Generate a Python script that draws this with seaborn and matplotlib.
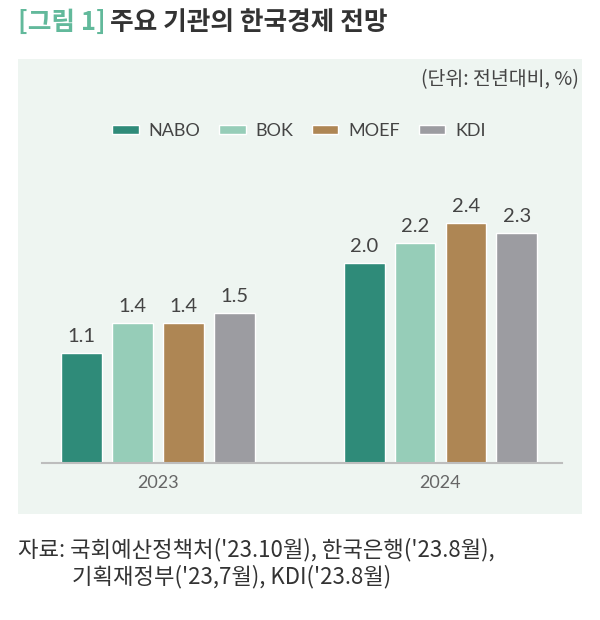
import matplotlib
matplotlib.use("Agg")
import matplotlib.pyplot as plt
from matplotlib.patches import Rectangle
import seaborn as sns
import pandas as pd

years = ["2023", "2024"]
agencies = ["NABO", "BOK", "MOEF", "KDI"]
nabo = [1.1, 2.0]
bok = [1.4, 2.2]
moef = [1.4, 2.4]
kdi = [1.5, 2.3]
colors = ["#2f8b79", "#96cdb8", "#ae8654", "#9c9ca1"]

rows = []
for name, vals in zip(agencies, [nabo, bok, moef, kdi]):
    for y, v in zip(years, vals):
        rows.append({"year": y, "agency": name, "value": v})
df = pd.DataFrame(rows)

sns.set_style("white")
plt.rcParams["font.family"] = ["Noto Sans CJK KR", "DejaVu Sans"]

fig = plt.figure(figsize=(6, 6.2), dpi=100)
fig.patch.set_facecolor("white")

# light panel behind the chart
bg = "#eef5f1"
fig.patches.append(Rectangle((18 / 600, 1 - 514 / 620), 564 / 600, 455 / 620,
                             transform=fig.transFigure, facecolor=bg,
                             edgecolor="none", zorder=-10))

ax = fig.add_axes([42 / 600, 1 - 463 / 620, 520 / 600, 300 / 620])
ax.set_facecolor("none")
ax.set_zorder(5)

sns.barplot(data=df, x="year", y="value", hue="agency", palette=colors,
            width=0.72, gap=0.2, ax=ax, legend=True, saturation=1)

for cont in ax.containers:
    ax.bar_label(cont, fmt="%.1f", padding=6, fontsize=14.5, color="#444444",
                 family="Lato")

ax.set_ylim(0, 3.0)
ax.set_xlim(-0.41, 1.43)
ax.set_yticks([])
ax.set_xlabel("")
ax.set_ylabel("")
for s in ["top", "right", "left"]:
    ax.spines[s].set_visible(False)
ax.spines["bottom"].set_color("#bdbdbd")
ax.spines["bottom"].set_linewidth(1.5)
ax.tick_params(axis="x", length=0, pad=9, labelsize=13, labelcolor="#666666")
for lab in ax.get_xticklabels():
    lab.set_family("Lato")

leg = ax.legend(loc="center", bbox_to_anchor=(299 / 600, 1 - 131 / 620),
                bbox_transform=fig.transFigure, ncol=4, frameon=False,
                fontsize=13, handlelength=1.45, handleheight=0.45,
                columnspacing=1.05, handletextpad=0.55)
for t in leg.get_texts():
    t.set_color("#444444")
    t.set_family("Lato")

# title
fig.text(18 / 600, 1 - 22 / 620, "[그림 1]", fontsize=18.5, fontweight="bold",
         color="#62b99b", va="center", ha="left")
fig.text(110 / 600, 1 - 22 / 620, "주요 기관의 한국경제 전망", fontsize=18.5,
         fontweight="bold", color="#333333", va="center", ha="left")

fig.text(579 / 600, 1 - 80 / 620, "(단위: 전년대비, %)", fontsize=14,
         color="#444444", va="center", ha="right")

fig.text(18 / 600, 1 - 550 / 620,
         "자료: 국회예산정책처('23.10월), 한국은행('23.8월),", fontsize=16,
         color="#333333", va="center", ha="left")
fig.text(72 / 600, 1 - 577 / 620,
         "기획재정부('23,7월), KDI('23.8월)", fontsize=16,
         color="#333333", va="center", ha="left")

fig.savefig("out.png", dpi=100)
